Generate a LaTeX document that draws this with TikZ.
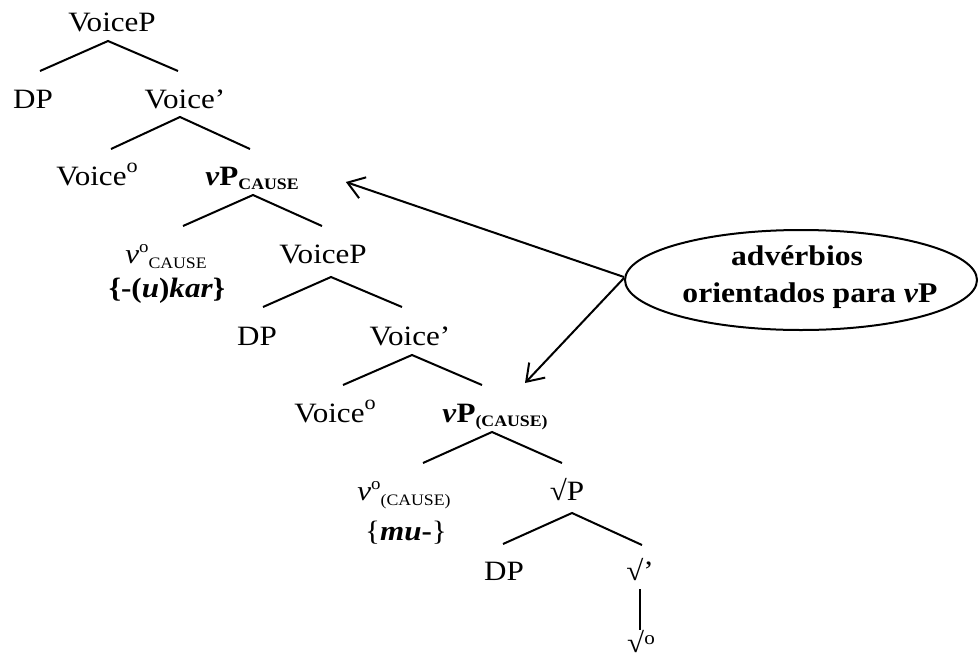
\documentclass[tikz,border=0pt]{standalone}
\usepackage{fontspec}
\setmainfont[FakeStretch=1.11]{Liberation Serif}
\usetikzlibrary{shapes.geometric,arrows.meta}
\newcommand{\sm}[1]{{\fontsize{16}{16}\selectfont #1}}
\newcommand{\supo}{\raisebox{13pt}{{\fontsize{20}{20}\selectfont o}}}
\newcommand{\vsupo}{\raisebox{11pt}{{\fontsize{17}{17}\selectfont o}}}
\tikzset{
  lbl/.style={anchor=base, inner sep=0pt, font=\fontsize{28}{34}\selectfont},
  br/.style={line width=2pt},
  arr/.style={line width=2pt, -{Straight Barb[length=16pt,width=22pt,line width=2pt]}},
  oval/.style={ellipse, draw, line width=2pt, minimum width=352pt, minimum height=100pt, inner sep=0pt}
}
\begin{document}
\begin{tikzpicture}[x=1pt,y=-1pt]
\useasboundingbox (0,0) rectangle (980,659);
% nodes
\node[lbl] (VP1) at (112,31) {VoiceP};
\node[lbl] (DP1) at (33,108) {DP};
\node[lbl] (Vb1) at (185,108) {Voice’};
\node[lbl] (Vo1) at (97,185) {Voice\supo};
\node[lbl] (vP1) at (252,185) {\textbf{\textit{v}P}\raisebox{-4pt}{\sm{\textbf{CAUSE}}}};
\node[lbl] (vo1) at (166,263) {\textit{v}\vsupo\raisebox{-5pt}{\sm{CAUSE}}};
\node[lbl] (kar) at (167,297) {\textbf{\{-(\textit{u})\textit{kar}\}}};
\node[lbl] (VP2) at (323,263) {VoiceP};
\node[lbl] (DP2) at (257,345) {DP};
\node[lbl] (Vb2) at (410,345) {Voice’};
\node[lbl] (Vo2) at (335,422) {Voice\supo};
\node[lbl] (vP2) at (495,422) {\textbf{\textit{v}P}\raisebox{-4pt}{\sm{\textbf{(CAUSE)}}}};
\node[lbl] (vo2) at (404,500) {\textit{v}\vsupo\raisebox{-5pt}{\sm{(CAUSE)}}};
\node[lbl] (mu) at (406,540) {\{\textbf{\textit{mu}-}\}};
\node[lbl] (rP) at (567,500) {√P};
\node[lbl] (DP3) at (504,580) {DP};
\node[lbl] (rb) at (640,580) {√’};
\node[lbl] (ro) at (641,652) {√\raisebox{8pt}{{\fontsize{19}{19}\selectfont o}}};
\node[oval] (adv) at (801,280) {};
\node[lbl, font=\fontsize{28.5}{34}\selectfont\bfseries] (adv1) at (797,265) {advérbios};
\node[lbl, font=\fontsize{28.5}{34}\selectfont\bfseries] (adv2) at (810,302) {orientados para \textit{v}P};
% branches
\draw[br] ([xshift=7pt,yshift=37pt]DP1.base) -- ([xshift=-4pt,yshift=-10pt]VP1.base) -- ([xshift=-7pt,yshift=37pt]Vb1.base);
\draw[br] ([xshift=14pt,yshift=36pt]Vo1.base) -- ([xshift=-5pt,yshift=-9pt]Vb1.base) -- ([xshift=-2pt,yshift=36pt]vP1.base);
\draw[br] ([xshift=17pt,yshift=37pt]vo1.base) -- ([xshift=1pt,yshift=-10pt]vP1.base) -- ([xshift=-1pt,yshift=37pt]VP2.base);
\draw[br] ([xshift=6pt,yshift=38pt]DP2.base) -- ([xshift=8pt,yshift=-14pt]VP2.base) -- ([xshift=-8pt,yshift=38pt]Vb2.base);
\draw[br] ([xshift=8pt,yshift=37pt]Vo2.base) -- ([xshift=2pt,yshift=-10pt]Vb2.base) -- ([xshift=-13pt,yshift=37pt]vP2.base);
\draw[br] ([xshift=19pt,yshift=37pt]vo2.base) -- ([xshift=-3pt,yshift=-10pt]vP2.base) -- ([xshift=-5pt,yshift=37pt]rP.base);
\draw[br] ([xshift=-1pt,yshift=36pt]DP3.base) -- ([xshift=5pt,yshift=-13pt]rP.base) -- ([xshift=2pt,yshift=35pt]rb.base);
\draw[br] ([yshift=-9pt]rb.base) -- ([xshift=-1pt,yshift=22pt]ro.base);
% arrows
\draw[arr] ([yshift=3pt]adv.west) -- ([xshift=47pt,yshift=3pt]vP1.base east);
\draw[arr] ([yshift=2pt]adv.west) -- ([xshift=30pt,yshift=39pt]vP2.base);
\end{tikzpicture}
\end{document}
